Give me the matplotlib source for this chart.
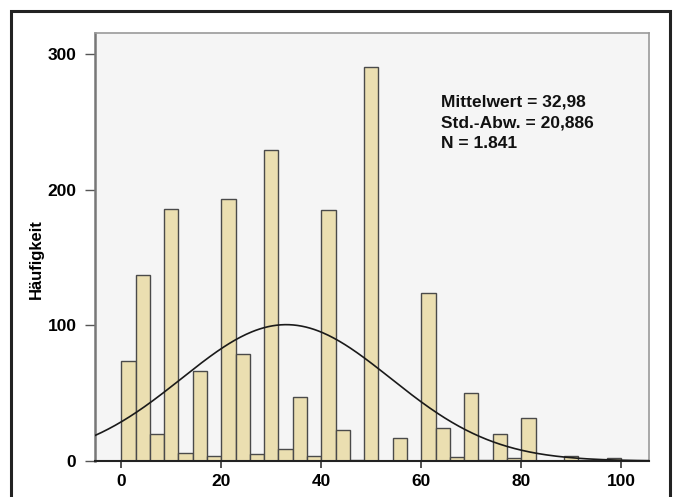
import matplotlib
matplotlib.use('Agg')
import matplotlib.pyplot as plt
import numpy as np
from matplotlib.patches import Rectangle

plt.rcParams['font.family'] = ['Liberation Sans', 'DejaVu Sans']

# Histogram: 35 bins between 0 and 100
bin_lo = 0
bin_hi = 100
n_bins = 35
counts = [74, 137, 20, 186, 6, 66, 4, 193, 79, 5, 229, 9, 47, 4, 185, 23, 1,
          290, 0, 17, 0, 124, 24, 3, 50, 1, 20, 2, 32, 0, 0, 4, 0, 1, 2]

# Statistics shown on the chart (used for the fitted normal curve)
mean = 32.98
sd = 20.886
n_total = 1841
stats_lines = ['Mittelwert = 32,98', 'Std.-Abw. = 20,886', 'N = 1.841']

x_ticks = [0, 20, 40, 60, 80, 100]
y_ticks = [0, 100, 200, 300]

W, H = 674, 497
fig = plt.figure(figsize=(W / 100, H / 100), dpi=100)
fig.patch.set_facecolor('white')

ax = fig.add_axes([94.5 / W, 1 - 461 / H, (649.3 - 94.5) / W, (461 - 32.7) / H])
ax.set_facecolor('#f5f5f5')

edges = np.linspace(bin_lo, bin_hi, n_bins + 1)
width = edges[1] - edges[0]
ax.bar(edges[:-1], counts, width=width, align='edge', color='#ebdfb1',
       edgecolor='#4a4a4a', linewidth=1.0, zorder=2)

# fitted normal curve
ax.set_xlim(-5.36, 105.6)
xs = np.linspace(-5.36, 105.6, 400)
ys = n_total * width / (sd * np.sqrt(2 * np.pi)) * np.exp(-0.5 * ((xs - mean) / sd) ** 2)
ax.plot(xs, ys, color='#1a1a1a', linewidth=1.2, zorder=3)

ax.set_ylim(0, 315.6)
ax.set_xticks(x_ticks)
ax.set_yticks(y_ticks)
ax.tick_params(axis='x', length=5, width=1.2, color='#333333', pad=4, labelsize=12.5)
ax.tick_params(axis='y', length=7, width=1.0, color='#555555', pad=6, labelsize=12.5)
for lab in ax.get_xticklabels() + ax.get_yticklabels():
    lab.set_fontweight('bold')

for side in ['top', 'right']:
    ax.spines[side].set_color('#9a9a9a')
    ax.spines[side].set_linewidth(1.2)
ax.spines['left'].set_color('#777777')
ax.spines['left'].set_linewidth(1.8)
ax.spines['bottom'].set_color('#222222')
ax.spines['bottom'].set_linewidth(1.5)

fig.text(36.7 / W, 1 - 259 / H, 'Häufigkeit', rotation=90, ha='center',
         va='center', fontsize=12, fontweight='bold')

for i, line in enumerate(stats_lines):
    fig.text(441 / W, 1 - (106 + 21 * i) / H, line, ha='left', va='baseline',
             fontsize=12.5, fontweight='bold', color='#111111')

# outer frame
fig.patches.append(Rectangle((11 / W, -0.1), (670 - 11) / W, 1.1 - 11 / H,
                             transform=fig.transFigure, fill=False,
                             edgecolor='#222222', linewidth=2.2))

fig.savefig('out.png', dpi=100)
